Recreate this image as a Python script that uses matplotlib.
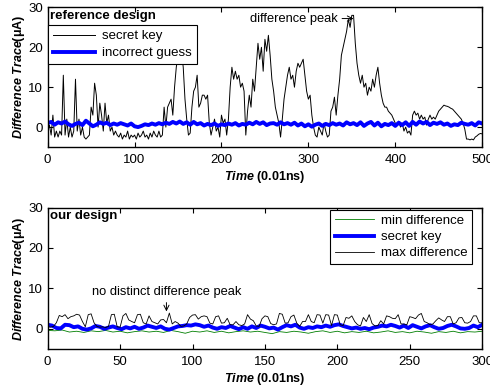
import numpy as np
import matplotlib
matplotlib.use("Agg")
import matplotlib.pyplot as plt

plt.rcParams['font.family'] = ['Liberation Sans', 'DejaVu Sans']
plt.rcParams['mathtext.fontset'] = 'custom'
plt.rcParams['mathtext.rm'] = 'Liberation Sans'
plt.rcParams['mathtext.bf'] = 'Liberation Sans:bold'
plt.rcParams['mathtext.it'] = 'Liberation Sans:italic'
plt.rcParams['mathtext.bfit'] = 'Liberation Sans:bold:italic'

# top panel: reference design, secret key trace (every 2 units of time)
ref_key = [
    -1, 0.5, -2, 3, -2.5, -1, -2.5, -1, -2, 13,
    -2, 2, -2.5, 0, -2.5, -1, 12, -1, 2, -2,
    0, -2.5, -3, -2.5, -2, 5, 3, 11, 8, 0,
    6, 3, -1, 6, 1, 3, -1, 0, -2, -1,
    -2, -2.5, -1.5, -3, -2, -2.5, -1, -3, -2, -2.5,
    -2, -3, -1.5, -2.5, -2, -1, -2.5, -2, -3, -1.5,
    -2.5, -1, -2, -2.5, -1, -2.5, -2, 5, 0, 5,
    6, 7, 3, 10, 15, 18, 17, 19, 15, 7,
    2, -2, -1.5, 5, 9, 10, 13, 5, 6, 8,
    8, 7, 8, 1, -2, 0, 2, -1, 0, -2.5,
    3, 1, 2, -2, 2, 10, 15, 12, 14, 12,
    13, 10, 11, 9, -2, 4, 8, 5, 12, 9,
    15, 21, 17, 20, 14, 22, 19, 23, 18, 12,
    9, 5, 3, 1, -2.5, 2, 7, 10, 13, 15,
    12, 13, 10, 14, 16, 15, 16, 17, 13, 9,
    7, 8, 3, 0, -2, -2.5, 0, -1, -2, 1,
    -1, -2.5, -2, 4, 5, 7.5, 3, 8, 12, 18,
    20, 22, 24, 27, 25, 28, 28, 21, 16, 13,
    11, 13, 10, 11, 8, 10, 9, 12, 10, 13,
    15, 11, 8, 6, 5, 5, 4, 3.5, 3, 2,
    1, 0.5, 1.5, 0, 1, -1, 0, -1.5, -1, -2,
    3, 4, 3, 3.5, 2, 3, 2, 2.5, 0.5, 2,
    3, 2, 2.5, 2, 3, 4, 4.5, 5, 5.5, 5.3,
    5.2, 5, 4.7, 4.5, 4, 3.5, 3, 2.5, 2, 1,
    -0.5, -3, -3, -3.2, -3, -3.2, -2.5, -2.2, -1.8, -1.6,
    -1.7,
]
# top panel: incorrect guess (every 4 units)
ref_guess = [
    1.0, 1.3, 0.6, 1.2, 0.9, 1.4, 0.7, 0.3, 0.8, 1.1,
    0.5, 1.6, 0.9, 0.2, 0.6, 1.2, 0.8, 1.1, 0.5, 0.9,
    0.6, 1.0, 0.7, 0.4, 0.9, 0.2, 0.0, 0.3, 0.7, 0.5,
    0.9, 0.6, 1.0, 0.7, 1.1, 0.8, 1.3, 0.9, 1.4, 0.8,
    1.2, 0.6, 1.3, 0.7, 1.0, 0.4, 0.8, 0.5, 0.9, 0.3,
    0.7, 0.5, 0.9, 0.6, 1.0, 0.4, 0.8, 0.6, 1.1, 0.7,
    1.3, 0.8, 1.2, 0.5, 0.9, 1.0, 0.6, 1.2, 0.7, 1.0,
    0.6, 1.1, 0.4, 0.9, 0.2, 0.7, 0.1, 0.6, 0.9, 0.3,
    0.8, 0.5, 1.0, 0.6, 0.9, 0.4, 1.2, 0.7, 1.0, 0.5,
    1.2, 0.3, 0.9, 1.3, 0.4, 1.1, 0.2, 0.8, 0.5, 1.0,
    0.3, 1.1, 0.5, 1.2, 0.3, 1.3, 0.6, 1.4, 0.9, 1.3,
    0.5, 1.1, 0.8, 1.2, 0.6, 0.9, 0.3, 0.7, 0.5, 1.1,
    0.8, 0.6, 1.0, 0.4, 1.2, 0.9,
]

# bottom panel: our design
our_max = [
    0.5, 0.4, 0.6, 1.5, 3.3, 3.0, 3.5, 2.5, 3.0, 3.2,
    3.6, 3.4, 1.8, 0.5, 3.5, 3.7, 1.5, 0.6, 0.4, 0.5,
    0.3, 0.6, 3.5, 3.6, 0.5, 0.4, 3.2, 3.8, 2.2, 1.8,
    1.5, 3.5, 3.6, 1.5, 1.2, 3.2, 1.8, 1.5, 1.2, 2.2,
    2.3, 1.5, 3.9, 1.2, 1.8, 1.4, 0.6, 0.7, 1.2, 2.8,
    3.4, 3.5, 2.4, 3.0, 3.2, 3.0, 1.4, 1.2, 3.0, 3.2,
    1.4, 1.5, 2.6, 1.0, 1.0, 1.8, 1.0, 0.8, 1.2, 3.5,
    2.4, 2.0, 0.7, 0.6, 2.5, 3.2, 3.0, 1.3, 1.0, 1.2,
    3.8, 3.6, 1.4, 1.5, 3.0, 3.4, 1.4, 0.6, 1.8, 1.8,
    3.5, 1.8, 1.5, 3.5, 3.4, 1.4, 3.5, 3.4, 0.8, 3.5,
    3.4, 1.0, 0.8, 2.8, 2.6, 3.2, 1.8, 1.0, 0.7, 2.8,
    1.8, 3.5, 1.3, 0.7, 0.8, 2.0, 1.2, 3.2, 3.0, 2.6,
    2.5, 3.5, 1.2, 1.2, 1.0, 3.0, 2.8, 2.5, 3.4, 3.8,
    1.8, 1.5, 1.0, 1.2, 2.0, 2.7, 2.2, 1.8, 3.0, 3.0,
    1.2, 1.5, 2.7, 2.8, 1.5, 1.4, 1.8, 3.2, 3.2, 1.5,
    1.5,
]
our_key = [
    1.0, 0.8, 0.2, 0.1, 1.0, 0.9, 0.4, 0.6, 0.0, -0.2,
    0.1, 0.7, 0.5, 0.0, 0.3, 0.6, 0.2, -0.1, 0.4, 0.1,
    0.5, 0.0, 0.3, 0.8, 0.5, 0.2, 0.6, 0.0, -0.2, 0.2,
    0.6, 0.7, 0.9, 0.8, 1.1, 0.9, 0.5, 0.8, 0.3, 0.0,
    0.4, 0.2, 0.7, 0.3, -0.1, 0.4, 0.0, 0.6, 0.2, 0.8,
    0.5, 0.1, 0.3, -0.2, 0.4, 0.9, 0.6, 1.0, 0.3, 0.0,
    0.4, 0.2, 0.6, 0.4, 0.8, 0.5, 0.9, 1.1, 0.7, 0.4,
    0.1, 0.3, 0.0, 0.2, -0.1, 0.3, 0.5, 0.8, 0.6, 1.0,
    0.7, 0.3, 0.8, 0.2, 0.9, 0.5, 0.1, 0.6, 0.9, 0.4,
    0.0, 0.2, 0.7, 1.0, 0.6, 0.1, 0.0, 0.2, 0.8, 0.4,
    1.0,
]
our_min = [
    -0.4, -0.5, -0.3, -0.8, -0.6, -0.9, -0.5, -0.7, -0.4, -0.8,
    -0.6, -1.0, -0.7, -0.5, -0.8, -0.6, -0.9, -0.4, -0.7, -1.1,
    -0.6, -0.8, -0.5, -0.9, -0.6, -1.0, -0.7, -0.5, -0.8, -0.6,
    -0.9, -1.2, -0.7, -0.9, -0.6, -0.8, -1.1, -0.7, -0.5, -0.9,
    -0.6, -1.0, -0.7, -0.9, -0.6, -1.0, -0.8, -0.5, -0.9, -0.7,
    -1.0, -0.6, -0.8, -1.1, -0.7, -0.9, -0.6, -1.0, -0.7, -0.8,
    -0.6,
]

t_ref_key = np.linspace(0, 500, len(ref_key))
t_ref_guess = np.linspace(0, 500, len(ref_guess))
t_max = np.linspace(0, 300, len(our_max))
t_key = np.linspace(0, 300, len(our_key))
t_min = np.linspace(0, 300, len(our_min))

fig = plt.figure(figsize=(4.9, 3.88), dpi=100)
ax1 = fig.add_axes([0.0973, 0.621, 0.8867, 0.360])
ax2 = fig.add_axes([0.0973, 0.1005, 0.8867, 0.3645])

ylab = r'$\mathbfit{Difference\ Trace}$(μA)'
xlab = r'$\mathbfit{Time}$ (0.01ns)'

# top
ax1.plot(t_ref_key, ref_key, color='black', lw=0.7, label='secret key')
ax1.plot(t_ref_guess, ref_guess, color='blue', lw=2.8, label='incorrect guess')
ax1.set_xlim(0, 500)
ax1.set_xticks([0, 100, 200, 300, 400, 500])
ax1.text(0.006, 0.98, 'reference design', transform=ax1.transAxes,
         fontsize=9.5, fontweight='bold', va='top', ha='left')
ax1.annotate('difference peak', xy=(352, 27.2), xytext=(334, 27.2),
             ha='right', va='center', fontsize=9.3,
             arrowprops=dict(arrowstyle='->', lw=0.7, shrinkA=1, shrinkB=0))
leg1 = ax1.legend(loc='upper left', bbox_to_anchor=(0, 0.875), fontsize=9.5,
                  borderaxespad=0, handlelength=3.2, fancybox=False,
                  framealpha=1, edgecolor='black', borderpad=0.4,
                  labelspacing=0.35, handletextpad=0.5)
leg1.get_frame().set_linewidth(0.8)

# bottom
ax2.plot(t_min, our_min, color='#007f00', lw=0.6, label='min difference')
ax2.plot(t_key, our_key, color='blue', lw=2.8, label='secret key')
ax2.plot(t_max, our_max, color='black', lw=0.6, label='max difference')
ax2.set_xlim(0, 300)
ax2.set_xticks([0, 50, 100, 150, 200, 250, 300])
ax2.text(0.006, 0.98, 'our design', transform=ax2.transAxes,
         fontsize=9.5, fontweight='bold', va='top', ha='left')
ax2.annotate('no distinct difference peak', xy=(82, 4.3), xytext=(82, 9),
             ha='center', va='center', fontsize=9.3,
             arrowprops=dict(arrowstyle='->', lw=0.7, shrinkA=1, shrinkB=0))
leg2 = ax2.legend(loc='upper right', bbox_to_anchor=(0.977, 0.982), fontsize=9.5,
                  borderaxespad=0, handlelength=3.0, fancybox=False,
                  framealpha=1, edgecolor='black', borderpad=0.35,
                  labelspacing=0.3, handletextpad=0.5)
leg2.get_frame().set_linewidth(0.8)

for ax in (ax1, ax2):
    ax.set_ylim(-5, 30)
    ax.set_yticks([0, 10, 20, 30])
    ax.tick_params(direction='in', top=True, right=True, labelsize=9.5,
                   length=3.5, width=0.8)
    ax.tick_params(axis='x', pad=5)
    for s in ax.spines.values():
        s.set_linewidth(1.0)
    ax.set_ylabel(ylab, fontsize=9, fontweight='bold', labelpad=1)
    ax.set_xlabel(xlab, fontsize=9, fontweight='bold', labelpad=2)

fig.savefig('out.png', dpi=100)
